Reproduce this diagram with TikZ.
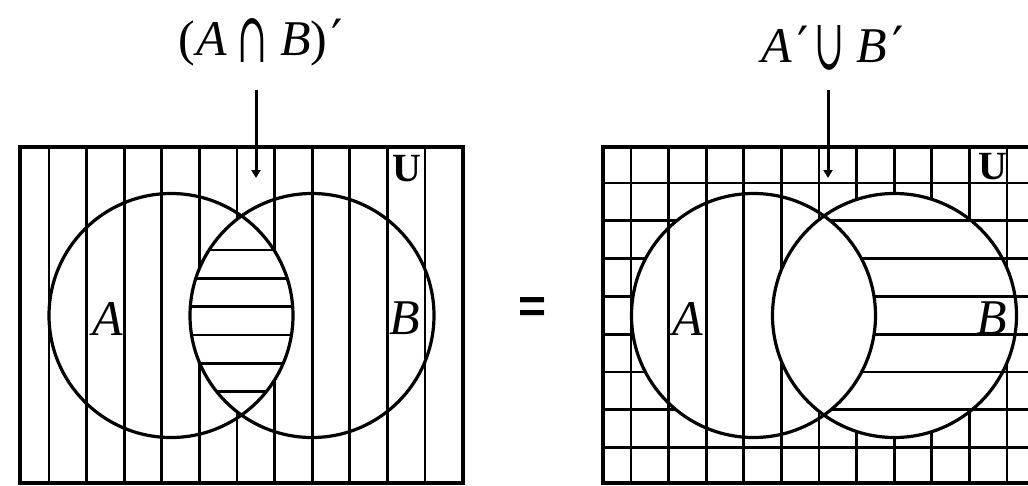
\documentclass[tikz,border=0pt]{standalone}
\usepackage{fontspec}
\setmainfont{Liberation Serif}
\newfontfamily\eqfont{Liberation Sans}
\newfontfamily\symfont{DejaVu Serif}
\usetikzlibrary{arrows.meta}
\newcommand{\bigcapsym}{\raisebox{-7pt}{\resizebox{30pt}{44pt}{\symfont ∩}}}
\newcommand{\bigcupsym}{\raisebox{-7pt}{\resizebox{30pt}{44pt}{\symfont ∪}}}
\newcommand{\primesym}{{\symfont ′}}
\begin{document}
\begin{tikzpicture}[x=1pt,y=-1pt,
  hatch/.style={line width=2.9pt, black},
  outline/.style={line width=3.2pt, black},
  setlabel/.style={font=\fontsize{50}{50}\selectfont\itshape, inner sep=0pt},
  titlelabel/.style={font=\fontsize{50}{60}\selectfont, inner sep=0pt, anchor=base},
  ulabel/.style={font=\fontsize{40}{40}\selectfont\bfseries, inner sep=0pt},
  eqlabel/.style={font=\fontsize{48}{48}\selectfont\eqfont\bfseries, inner sep=0pt},
  pointer/.style={line width=3pt, -{Triangle[width=9pt,length=8pt]}}]
\useasboundingbox (0,0) rectangle (1028,485);
\clip (0,0) rectangle (1028,485);

% ---------- left panel: (A cap B)' ----------
\foreach \k in {0,...,10}
  \draw[hatch] (49+37.6*\k,147) -- (49+37.6*\k,483);
\begin{scope}
  \clip (171,315.5) circle (122);
  \fill[white] (312,315.5) circle (122);
\end{scope}
\begin{scope}
  \clip (171,315.5) circle (122);
  \clip (312,315.5) circle (122);
  \foreach \y in {250,278.3,306.7,335,363.3,391.7}
    \draw[hatch] (150,\y) -- (340,\y);
\end{scope}
\draw[outline] (171,315.5) circle (122);
\draw[outline] (312,315.5) circle (122);
\draw[outline] (20,147) rectangle (463,483);

\node[setlabel] (la) at (108,318.5) {A};
\node[setlabel] (lb) at (405,318.5) {B};
\node[ulabel] (lu) at (407,169) {U};

\node[titlelabel] (t1) at (260.5,55) {(\kern2pt\textit{A}\kern10pt\bigcapsym\kern13pt\textit{B})\kern4pt\primesym};
\coordinate (p1s) at (256,90);
\coordinate (p1e) at (256,178);
\draw[pointer] (p1s) -- (p1e);

% ---------- equals ----------
\node[eqlabel] (eq) at (532.5,310) {=};

% ---------- right panel: A' cup B' ----------
\begin{scope}[even odd rule]
  \clip (603,147) rectangle (1046,483) (894.5,315.5) circle (122);
  \foreach \k in {0,...,10}
    \draw[hatch] (631+37.6*\k,147) -- (631+37.6*\k,483);
\end{scope}
\begin{scope}[even odd rule]
  \clip (603,147) rectangle (1046,483) (753.5,315.5) circle (122);
  \foreach \k in {0,...,7}
    \draw[hatch] (603,183+37.8*\k) -- (1046,183+37.8*\k);
\end{scope}
\draw[outline] (753.5,315.5) circle (122);
\draw[outline] (894.5,315.5) circle (122);
\draw[outline] (603,147) rectangle (1046,483);

\node[setlabel] (ra) at (688,318.5) {A};
\node[setlabel] (rb) at (992,318.5) {B};
\node[ulabel] (ru) at (993,167) {U};

\node[titlelabel] (t2) at (832.5,62) {\textit{A}\kern6pt\primesym\kern5pt\bigcupsym\kern12pt\textit{B}\kern6pt\primesym};
\coordinate (p2s) at (828,90);
\coordinate (p2e) at (828,178);
\draw[pointer] (p2s) -- (p2e);
\end{tikzpicture}
\end{document}
